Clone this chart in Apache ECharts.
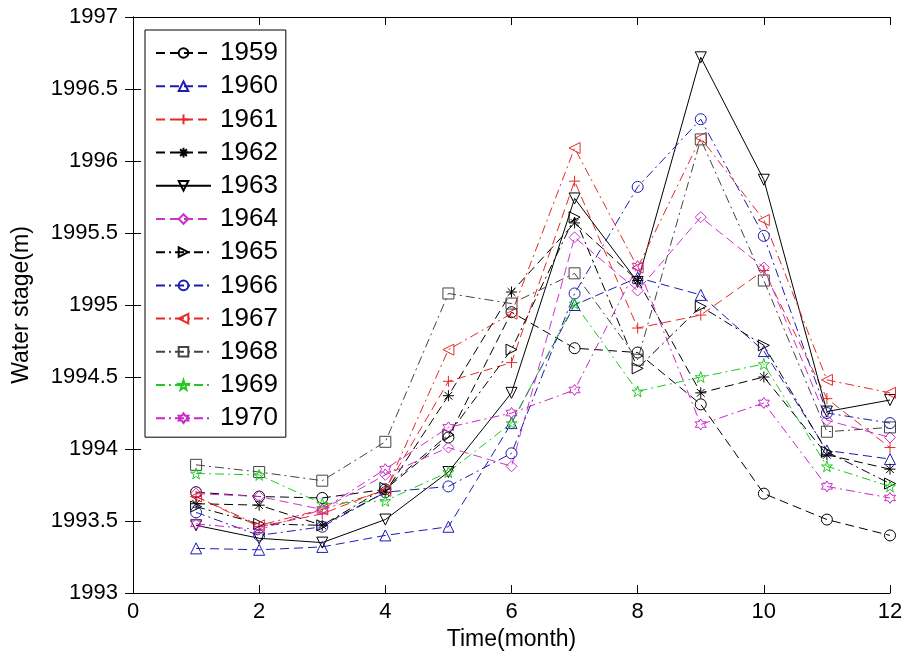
<!DOCTYPE html>
<html>
<head>
<meta charset="utf-8">
<script src="https://cdn.jsdelivr.net/npm/echarts@6/dist/echarts.min.js"></script>
<style>html,body{margin:0;padding:0;background:#fff;}#c{width:906px;height:664px;}</style>
</head>
<body>
<div id="c"></div>
<script>
const months = [1,2,3,4,5,6,7,8,9,10,11,12];
const xTicks = [0,2,4,6,8,10,12];
const yTicks = [1993,1993.5,1994,1994.5,1995,1995.5,1996,1996.5,1997];
const years = ['1959','1960','1961','1962','1963','1964','1965','1966','1967','1968','1969','1970'];

const v1959 = [1993.70,1993.67,1993.66,1993.72,1994.08,1994.95,1994.70,1994.67,1994.31,1993.69,1993.51,1993.40];
const v1960 = [1993.31,1993.30,1993.32,1993.40,1993.46,1994.18,1995.00,1995.19,1995.07,1994.68,1993.99,1993.93];
const v1961 = [1993.67,1993.46,1993.55,1993.72,1994.47,1994.60,1995.86,1994.84,1994.93,1995.24,1994.35,1994.01];
const v1962 = [1993.62,1993.61,1993.47,1993.70,1994.37,1995.09,1995.57,1995.17,1994.39,1994.50,1993.96,1993.86];
const v1963 = [1993.47,1993.38,1993.35,1993.51,1993.84,1994.39,1995.74,1995.16,1996.72,1995.87,1994.26,1994.34];
const v1964 = [1993.69,1993.67,1993.58,1993.82,1994.01,1993.88,1995.47,1995.10,1995.61,1995.26,1994.20,1994.08];
const v1965 = [1993.60,1993.48,1993.47,1993.73,1994.10,1994.69,1995.61,1994.56,1994.99,1994.72,1993.98,1993.76];
const v1966 = [1993.56,1993.40,1993.46,1993.70,1993.74,1993.97,1995.08,1995.82,1996.29,1995.48,1994.25,1994.18];
const v1967 = [1993.67,1993.47,1993.58,1993.71,1994.69,1994.94,1996.09,1995.26,1996.16,1995.59,1994.48,1994.39];
const v1968 = [1993.89,1993.84,1993.78,1994.05,1995.08,1995.01,1995.22,1994.62,1996.15,1995.17,1994.12,1994.15];
const v1969 = [1993.83,1993.82,1993.62,1993.64,1993.84,1994.18,1995.01,1994.40,1994.50,1994.59,1993.88,1993.74];
const v1970 = [1993.48,1993.44,1993.58,1993.86,1994.15,1994.25,1994.41,1995.27,1994.17,1994.32,1993.74,1993.66];

const values = [v1959,v1960,v1961,v1962,v1963,v1964,v1965,v1966,v1967,v1968,v1969,v1970];

const BLACK='#000000', BLUE='#1c1cb0', RED='#e42a2a', MAG='#cc33cc', GRAY='#444444', GREEN='#22c922', MAG2='#c828c8';
const DASH=[9,5], SOLID='solid', DASHDOT=[9,4,2,4];
const PLUS='path://M5,0L5,10M0,5L10,5';
const ASTER='path://M5,0L5,10M0,5L10,5M1.5,1.5L8.5,8.5M8.5,1.5L1.5,8.5';
const PENTA='path://M50,0L61.8,35.3L98.1,34.5L69.1,56.7L79.4,90.5L50,70L20.6,90.5L30.9,56.7L1.9,34.5L38.2,35.3Z';
const HEXA='path://M50,0L64.4,25L93.3,25L78.9,50L93.3,75L64.4,75L50,100L35.6,75L6.7,75L21.1,50L6.7,25L35.6,25Z';

const styles = [
  {c:BLACK, t:DASH, s:'circle', r:0},
  {c:BLUE, t:DASH, s:'triangle', r:0},
  {c:RED, t:DASH, s:PLUS, r:0},
  {c:BLACK, t:DASH, s:ASTER, r:0},
  {c:BLACK, t:SOLID, s:'triangle', r:180},
  {c:MAG, t:DASH, s:'diamond', r:0},
  {c:BLACK, t:DASHDOT, s:'triangle', r:-90},
  {c:BLUE, t:DASHDOT, s:'circle', r:0},
  {c:RED, t:DASHDOT, s:'triangle', r:90},
  {c:GRAY, t:DASHDOT, s:'rect', r:0},
  {c:GREEN, t:DASHDOT, s:PENTA, r:0},
  {c:MAG2, t:DASHDOT, s:HEXA, r:0}
];

const series = years.map((y,i)=>({
  name: y,
  type: 'line',
  xAxisIndex: 0, yAxisIndex: 0,
  data: months.map((m,k)=>[m, values[i][k]]),
  symbol: styles[i].s,
  symbolRotate: styles[i].r,
  symbolSize: 11,
  showSymbol: true,
  lineStyle: {color: styles[i].c, width: 1, type: styles[i].t},
  itemStyle: {color: 'rgba(255,255,255,0)', borderColor: styles[i].c, borderWidth: 1},
  emphasis: {disabled: true},
  animation: false
}));

const axisCommon = {
  type:'value',
  axisLine:{show:true, lineStyle:{color:'#000', width:1}},
  axisTick:{show:true, inside:true, length:8, lineStyle:{color:'#000'}},
  splitLine:{show:false}
};
const tickFont = {fontFamily:'Liberation Sans, Arial, sans-serif', fontSize:22, color:'#000'};
const nameFont = {fontFamily:'Liberation Sans, Arial, sans-serif', fontSize:23, color:'#000'};

const option = {
  backgroundColor:'#fff',
  animation:false,
  grid:{left:133, right:16, top:17, bottom:71, containLabel:false},
  legend:{
    orient:'vertical', left:145, top:30,
    itemWidth:55, itemHeight:12, itemGap:7.2,
    padding:[10,8,6,10],
    borderColor:'#000', borderWidth:1, backgroundColor:'#fff',
    textStyle:{fontFamily:'Liberation Sans, Arial, sans-serif', fontSize:26, color:'#000', lineHeight:24, padding:[0,0,0,4]},
    data: years
  },
  xAxis:[
    Object.assign({}, axisCommon, {position:'bottom', min:0, max:12, interval:2,
      name:'Time(month)', nameLocation:'middle', nameGap:34, nameTextStyle:nameFont,
      axisLabel:Object.assign({margin:8, formatter:v=>String(v)}, tickFont)}),
    Object.assign({}, axisCommon, {position:'top', min:0, max:12, interval:2, axisLabel:{show:false}})
  ],
  yAxis:[
    Object.assign({}, axisCommon, {position:'left', min:1993, max:1997, interval:0.5,
      name:'Water stage(m)', nameLocation:'middle', nameGap:100, nameTextStyle:nameFont,
      axisLabel:Object.assign({margin:15, formatter:v=>String(+v.toFixed(1))}, tickFont)}),
    Object.assign({}, axisCommon, {position:'right', min:1993, max:1997, interval:0.5, axisLabel:{show:false}})
  ],
  series: series
};
echarts.init(document.getElementById('c')).setOption(option);
</script>
</body>
</html>
